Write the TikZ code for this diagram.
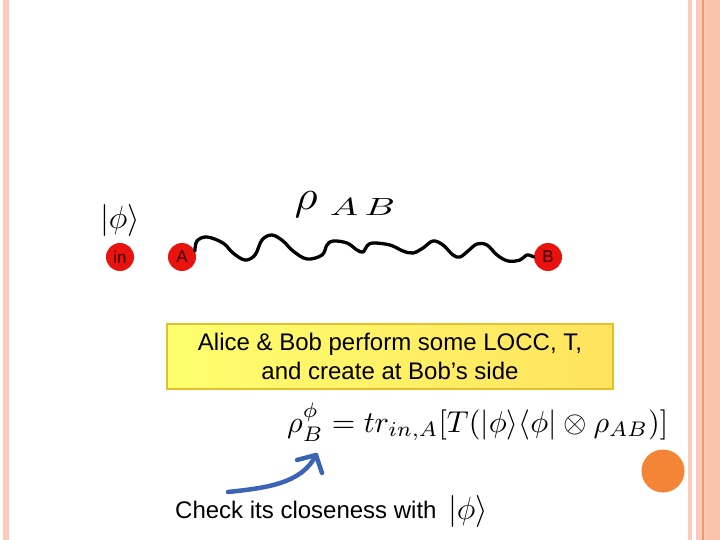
\documentclass[tikz,border=0pt]{standalone}
\usepackage{fix-cm}
\usepackage[no-math]{fontspec}
\setmainfont{Liberation Sans}
\usepackage{graphicx}
\definecolor{stripeA}{HTML}{F9CBB8}
\definecolor{stripeB}{HTML}{FBC2AC}
\definecolor{stripeLine}{HTML}{E89A70}
\definecolor{qred}{HTML}{E8120F}
\definecolor{qtext}{HTML}{3A0000}
\definecolor{boxL}{HTML}{FFFF6E}
\definecolor{boxR}{HTML}{FFE35E}
\definecolor{boxEdge}{HTML}{E3C12C}
\definecolor{penblue}{HTML}{3B64B5}
\definecolor{dotorange}{HTML}{F58536}
\begin{document}
\begin{tikzpicture}[x=1pt,y=-1pt,
  qubit/.style={circle, fill=qred, minimum size=28pt, inner sep=0pt, text=qtext,
    font=\fontsize{17}{17}\selectfont},
  mathbig/.style={inner sep=0pt, font=\fontsize{32}{32}\selectfont},
  wave/.style={line width=3.3pt, line cap=round, line join=round, black},
  bluepen/.style={line width=4.5pt, line cap=round, line join=round, penblue},
  textbox/.style={draw=boxEdge, line width=1.5pt, left color=boxL, right color=boxR,
    minimum width=446pt, minimum height=65pt, inner sep=0pt, align=center,
    font=\fontsize{24}{29}\selectfont},
  plaintext/.style={inner sep=0pt, font=\fontsize{24}{29}\selectfont}]
\useasboundingbox (0,0) rectangle (720,540);
\fill[white] (0,0) rectangle (720,540);
% frame stripes
\fill[stripeA] (3,0) rectangle (9,540);
\fill[stripeA] (688,0) rectangle (692,540);
\fill[stripeA] (696,0) rectangle (702,540);
\fill[stripeLine] (702,0) rectangle (703.5,540);
\fill[stripeA] (703.5,0) rectangle (706,540);
\fill[stripeB] (706,0) rectangle (720,540);
% qubits
\node[qubit] (in) at (120,257) {in};
\node[qubit] (A) at (182,257) {A};
\node[qubit] (B) at (548,257) {B};
\node[mathbig] (ket) at (120,221) {$|\phi\rangle$};
\node[inner sep=0pt] (rho) at (306,204.5) {\resizebox*{23pt}{26pt}{$\rho$}};
\node[inner sep=0pt] (ab) at (362.5,206.5) {\resizebox{65pt}{17pt}{$A\,B$}};
% wavy link
\draw[wave] plot[smooth, tension=0.6] coordinates {(A.25) (197,241) (207,237) (223,243)
  (233,253) (245,260) (255,255) (262,240) (272,235) (283,241) (293,251) (307,259)
  (322,255) (327,245) (333,241) (347,243) (357,250) (363,252) (367,246) (373,243)
  (390,245) (403,251) (413,253) (423,248) (433,241) (443,245) (453,255) (460,257)
  (468,251) (477,244) (487,245) (497,255) (508,261) (520,260) (527,255) (B.west)};
% LOCC box
\node[textbox] (box) at (390,356.5) {Alice \& Bob perform some LOCC, T,\\ and create at Bob’s side};
% formula
\node[inner sep=0pt, anchor=west] (formula) at (287,422)
  {\resizebox{381pt}{!}{$\rho^{\phi}_{B} = tr_{in,A}[T(|\phi\rangle\langle\phi| \otimes \rho_{AB})]$}};
% check line
\node[plaintext, anchor=base west] (check) at (175,518) {Check its closeness with};
\node[mathbig] (ket2) at (468,511) {$|\phi\rangle$};
% blue hand-drawn arrow
\coordinate (arrS) at (228,492);
\coordinate (arrT) at (316,455);
\draw[bluepen] (arrS) .. controls (265,488) and (302,484) .. (arrT);
\draw[bluepen] (arrT) ++(-19,5) -- (arrT) -- ++(6,18);
% orange dot
\node[circle, fill=dotorange, minimum size=43pt, inner sep=0pt] (dot) at (663,471) {};
\end{tikzpicture}
\end{document}
